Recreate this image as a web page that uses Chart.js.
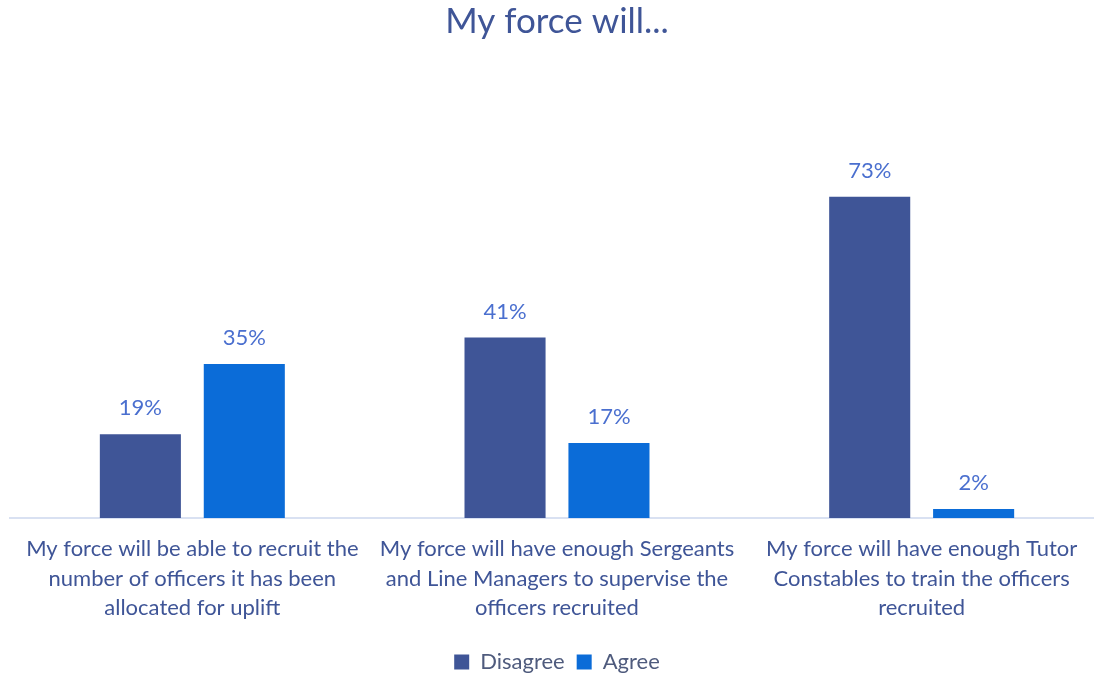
<!DOCTYPE html>
<html>
<head>
<meta charset="utf-8">
<script src="https://cdn.jsdelivr.net/npm/chart.js@4.4.0/dist/chart.umd.min.js"></script>
<style>
  html, body { margin: 0; padding: 0; background: #fff; overflow: hidden; }
  #wrap { width: 1114px; height: 675px; position: relative; }
</style>
</head>
<body>
<div id="wrap"><canvas id="chart"></canvas></div>
<script>
const categories = [
  ['My force will be able to recruit the', 'number of officers it has been', 'allocated for uplift'],
  ['My force will have enough Sergeants', 'and Line Managers to supervise the', 'officers recruited'],
  ['My force will have enough Tutor', 'Constables to train the officers', 'recruited']
];
const seriesNames = ['Disagree', 'Agree'];
const disagreeValues = [19, 41, 73];
const agreeValues = [35, 17, 2];

const FONT = 'Lato, "Open Sans", sans-serif';

// draws the "19%" style labels above each bar
const valueLabels = {
  id: 'valueLabels',
  afterDatasetsDraw(chart) {
    const ctx = chart.ctx;
    ctx.save();
    ctx.font = '22px ' + FONT;
    ctx.fillStyle = '#4a6fcf';
    ctx.textAlign = 'center';
    ctx.textBaseline = 'middle';
    chart.data.datasets.forEach((ds, i) => {
      chart.getDatasetMeta(i).data.forEach((bar, j) => {
        ctx.fillText(ds.data[j] + '%', bar.x, bar.y - 26);
      });
    });
    ctx.restore();
  }
};

new Chart(document.getElementById('chart').getContext('2d'), {
  type: 'bar',
  data: {
    labels: categories,
    datasets: [
      {
        label: seriesNames[0],
        data: disagreeValues,
        backgroundColor: '#3f5597',
        categoryPercentage: 0.57,
        barPercentage: 0.78
      },
      {
        label: seriesNames[1],
        data: agreeValues,
        backgroundColor: '#0b6cd8',
        categoryPercentage: 0.57,
        barPercentage: 0.78
      }
    ]
  },
  options: {
    responsive: true,
    maintainAspectRatio: false,
    animation: false,
    layout: { padding: { left: 10, right: 10, top: 0, bottom: -8 } },
    plugins: {
      title: {
        display: true,
        text: 'My force will...',
        color: '#3f5597',
        font: { family: FONT, size: 35, weight: 'normal' },
        padding: { top: 1, bottom: 123 }
      },
      legend: {
        position: 'bottom',
        labels: {
          color: '#4f5b7d',
          font: { family: FONT, size: 22 },
          boxWidth: 15,
          boxHeight: 15,
          padding: 12
        }
      },
      tooltip: { enabled: false }
    },
    scales: {
      x: {
        grid: { display: false, drawTicks: false },
        border: { display: true, color: '#d9e1f2', width: 2 },
        ticks: {
          color: '#3f5597',
          font: { family: FONT, size: 22, lineHeight: 1.32 },
          padding: 17,
          maxRotation: 0,
          autoSkip: false
        }
      },
      y: {
        display: false,
        min: 0,
        max: 80
      }
    }
  },
  plugins: [valueLabels]
});
</script>
</body>
</html>
